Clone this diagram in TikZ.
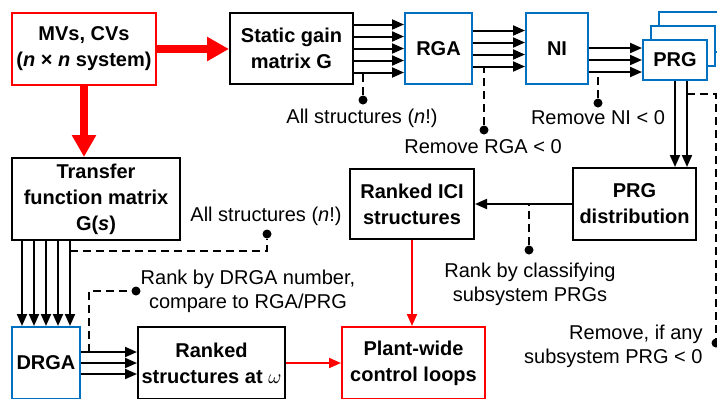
\documentclass[tikz,border=0pt]{standalone}
\usepackage{fontspec}
\setmainfont{Liberation Sans}
\usetikzlibrary{arrows.meta,positioning}

\definecolor{boxred}{RGB}{255,0,0}
\definecolor{boxblue}{RGB}{0,112,192}

\begin{document}
\begin{tikzpicture}[
	font=\fontsize{10}{12}\selectfont,
        x=0.5pt, y=-0.5pt,
        box/.style={
            rectangle,
            draw,
            line width=1pt,
            fill=white,
            inner sep=0pt,
            align=center,
            font=\fontsize{10}{13}\selectfont\bfseries
        },
        source/.style={
            box,
            draw=boxred
        },
        measure/.style={
            box,
            draw=boxblue
        },
        note/.style={
            align=center,
            inner sep=0pt
        },
        dot/.style={
            circle,
            fill,
            inner sep=0pt,
            minimum size=4.5pt
        },
        arrow/.style={
            -{Triangle[length=6pt,width=5pt]},
            line width=1pt
        },
        redarrow/.style={
            arrow,
            draw=boxred
        },
        bigarrow/.style={
            -{Triangle[length=11pt,width=11.5pt]},
            line width=4pt,
            draw=boxred
        },
        dashline/.style={
            line width=1pt,
            dash pattern=on 4pt off 2.5pt
        }
    ]
    \useasboundingbox (0,0) rectangle (717,398);
    % Input and static analysis chain
    \node[source, minimum width=72pt, minimum height=36pt] (mv) at (84,49)
        {MVs, CVs\\(\textit{n} × \textit{n} system)};
    \node[box, minimum width=61.5pt, minimum height=35.5pt] (sg) at (291.5,48.5)
        {Static gain\\matrix G};
    \node[measure, minimum width=33.5pt, minimum height=35.5pt] (rga) at (438.5,48.5) {RGA};
    \node[measure, minimum width=31pt, minimum height=35.5pt] (ni) at (557,48.5) {NI};
    % Stacked PRG boxes
    \node[measure, minimum width=32pt, minimum height=20pt] (prg3) at (691,32) {};
    \node[measure, minimum width=32pt, minimum height=20pt] (prg2) at (683,46) {};
    \node[measure, minimum width=32pt, minimum height=20pt] (prg1) at (675,60) {PRG};
    % Middle row
    \node[box, minimum width=84pt, minimum height=41pt] (tf) at (96,199)
        {Transfer\\function matrix\\G(\textit{s})};
    \node[box, minimum width=62pt, minimum height=35pt] (ici) at (412,204)
        {Ranked ICI\\structures};
    \node[box, minimum width=61.5pt, minimum height=36pt] (dist) at (634.5,204)
        {PRG\\distribution};
    % Bottom row
    \node[measure, minimum width=34pt, minimum height=36pt] (drga) at (46,363) {DRGA};
    \node[box, minimum width=73.5pt, minimum height=36pt] (rs) at (211.5,363)
        {Ranked\\structures at $\omega$};
    \node[source, minimum width=71.5pt, minimum height=36pt] (pw) at (413.5,363)
        {Plant-wide\\control loops};

    % Red main flow
    \draw[bigarrow] (mv.east) -- (mv.east -| sg.west);
    \draw[bigarrow] (mv.south) -- (mv.south |- tf.north);
    \draw[redarrow] (ici.south) -- (ici.south |- pw.north);
    \draw[redarrow] (rs.east) -- (pw.west);

    % Parallel structure arrows
    \foreach \dy in {12,6,0,-6,-12}
        \draw[arrow] ([yshift=\dy pt]sg.east) -- ([yshift=\dy pt]rga.west);
    \foreach \dy in {9,3,-3,-9}
        \draw[arrow] ([yshift=\dy pt]rga.east) -- ([yshift=\dy pt]ni.west);
    \foreach \dy in {6,0,-6}
        \draw[arrow] ([yshift=\dy pt]prg1.west -| ni.east) -- ([yshift=\dy pt]prg1.west);
    \foreach \dx in {0,6}
        \draw[arrow] ([xshift=\dx pt]prg1.south) -- ([xshift=\dx pt]prg1.south |- dist.north);
    \draw[arrow] (dist.west) -- (ici.east);
    \foreach \dx in {-12,-6,0,6,12}
        \draw[arrow] ([xshift=\dx pt]drga.north |- tf.south) -- ([xshift=\dx pt]drga.north);
    \foreach \dy in {5.5,0,-5.5}
        \draw[arrow] ([yshift=\dy pt]drga.east) -- ([yshift=\dy pt]drga.east -| rs.west);

    % Filter notes
    \node[dot] (dot_sg) at (363,100) {};
    \node[note] (lab_sg) at (362,118) {All structures (\textit{n}!)};
    \coordinate (sg_low) at ([yshift=-12pt]sg.east);
    \draw[dashline] (dot_sg) -- (dot_sg |- sg_low);

    \node[dot] (dot_rga) at (484,130) {};
    \node[note] (lab_rga) at (483,147) {Remove RGA < 0};
    \coordinate (rga_low) at ([yshift=-9pt]rga.east);
    \draw[dashline] (dot_rga) -- (dot_rga |- rga_low);

    \node[dot] (dot_ni) at (598,103) {};
    \node[note] (lab_ni) at (598,118) {Remove NI < 0};
    \coordinate (ni_low) at ([yshift=-6pt]prg1.west);
    \draw[dashline] (dot_ni) -- (dot_ni |- ni_low);

    \node[dot] (dot_prg) at (716,343) {};
    \node[note, anchor=east, align=right] (lab_prg) at (703,346)
        {Remove, if any\\subsystem PRG < 0};
    \coordinate (prg_tap) at ([xshift=6pt,yshift=-6.5pt]prg1.south);
    \draw[dashline] (prg_tap) -| (dot_prg);

    \node[dot] (dot_dist) at (529,250) {};
    \node[note] (lab_dist) at (530,284) {Rank by classifying\\subsystem PRGs};
    \draw[dashline] (dot_dist) -- (dot_dist |- dist.west);

    \node[dot] (dot_tf) at (267,234) {};
    \node[note] (lab_tf) at (266,216) {All structures (\textit{n}!)};
    \coordinate (tf_col) at ([xshift=12pt]drga.north);
    \path (tf_col |- tf.south) ++(0,10) coordinate (tf_tap);
    \draw[dashline] (tf_tap) -| (dot_tf);

    \node[dot] (dot_drga) at (136,291) {};
    \node[note] (lab_drga) at (248,291) {Rank by DRGA number,\\compare to RGA/PRG};
    \coordinate (drga_tap) at ([xshift=4pt,yshift=5.5pt]drga.east);
    \draw[dashline] (drga_tap) |- (dot_drga);
\end{tikzpicture}
\end{document}
